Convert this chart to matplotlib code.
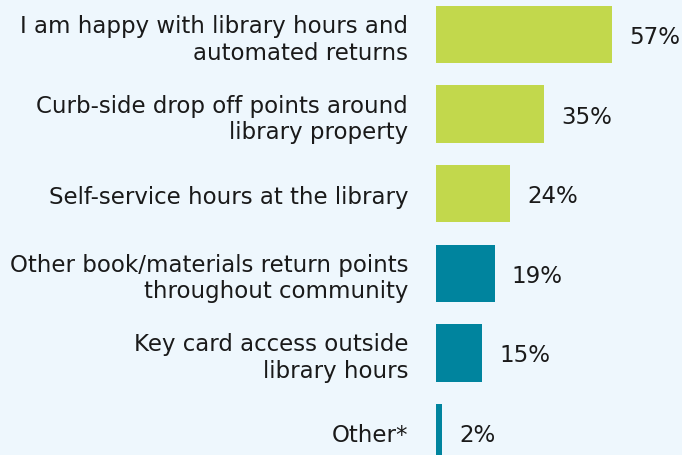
import matplotlib
matplotlib.use("Agg")
import matplotlib.pyplot as plt

categories = [
    "I am happy with library hours and\nautomated returns",
    "Curb-side drop off points around\nlibrary property",
    "Self-service hours at the library",
    "Other book/materials return points\nthroughout community",
    "Key card access outside\nlibrary hours",
    "Other*",
]
values = [57, 35, 24, 19, 15, 2]
value_labels = ["57%", "35%", "24%", "19%", "15%", "2%"]
colors = ["#C2D84C", "#C2D84C", "#C2D84C", "#00849E", "#00849E", "#00849E"]

bg = "#EEF7FD"
fs = 16.5
fig = plt.figure(figsize=(6.82, 4.56), dpi=100, facecolor=bg)
ax = fig.add_axes([436 / 682, 0, 246 / 682, 1])
ax.set_facecolor(bg)

pos = list(range(len(categories)))
ax.barh(pos, values, height=0.72, color=colors)
ax.set_xlim(0, 246 / 3.09)
ax.set_ylim((456 - 35.5) / 79.6, -35.5 / 79.6)

for p, v, lab in zip(pos, values, value_labels):
    ax.annotate(lab, xy=(v, p), xytext=(17, -2), textcoords="offset pixels",
                ha="left", va="center", fontsize=fs, color="#1a1a1a")

ax.set_yticks(pos)
ax.set_yticklabels(categories, fontsize=fs, color="#1a1a1a", linespacing=1.2)
ax.tick_params(axis="y", length=0, pad=20)
ax.set_xticks([])
for s in ax.spines.values():
    s.set_visible(False)

fig.savefig("out.png", dpi=100, facecolor=bg)
